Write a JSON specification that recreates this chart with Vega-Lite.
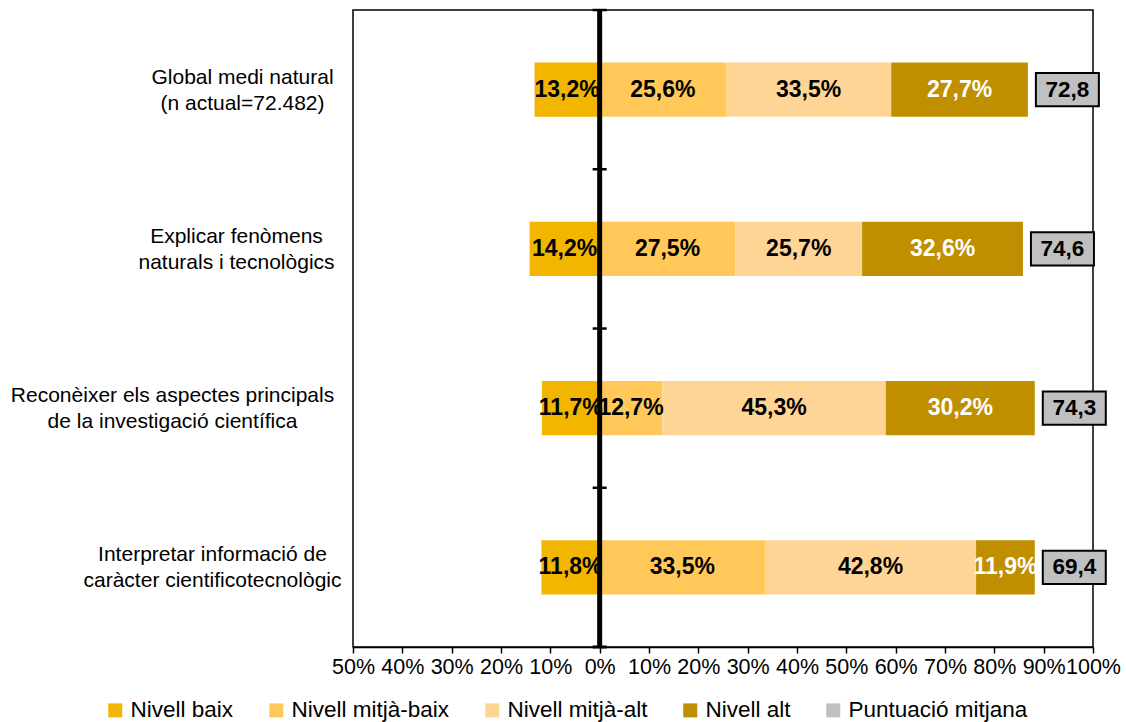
{
  "$schema": "https://vega.github.io/schema/vega-lite/v6.json",
  "width": 740,
  "height": 637,
  "autosize": {"type": "none"},
  "padding": {"left": 353, "top": 10, "right": 33, "bottom": 75},
  "background": "white",
  "config": {
    "font": "Liberation Sans",
    "view": {"stroke": "black", "strokeWidth": 1.5},
    "axis": {"grid": false, "labelColor": "black", "labelFont": "Liberation Sans"}
  },
  "datasets": {
    "levels": [
      {"category": "Global medi natural\n(n actual=72.482)", "level": "Nivell baix", "value": -13.2, "label": "13,2%"},
      {"category": "Global medi natural\n(n actual=72.482)", "level": "Nivell mitjà-baix", "value": 25.6, "label": "25,6%"},
      {"category": "Global medi natural\n(n actual=72.482)", "level": "Nivell mitjà-alt", "value": 33.5, "label": "33,5%"},
      {"category": "Global medi natural\n(n actual=72.482)", "level": "Nivell alt", "value": 27.7, "label": "27,7%"},
      {"category": "Explicar fenòmens\nnaturals i tecnològics", "level": "Nivell baix", "value": -14.2, "label": "14,2%"},
      {"category": "Explicar fenòmens\nnaturals i tecnològics", "level": "Nivell mitjà-baix", "value": 27.5, "label": "27,5%"},
      {"category": "Explicar fenòmens\nnaturals i tecnològics", "level": "Nivell mitjà-alt", "value": 25.7, "label": "25,7%"},
      {"category": "Explicar fenòmens\nnaturals i tecnològics", "level": "Nivell alt", "value": 32.6, "label": "32,6%"},
      {"category": "Reconèixer els aspectes principals\nde la investigació científica", "level": "Nivell baix", "value": -11.7, "label": "11,7%"},
      {"category": "Reconèixer els aspectes principals\nde la investigació científica", "level": "Nivell mitjà-baix", "value": 12.7, "label": "12,7%"},
      {"category": "Reconèixer els aspectes principals\nde la investigació científica", "level": "Nivell mitjà-alt", "value": 45.3, "label": "45,3%"},
      {"category": "Reconèixer els aspectes principals\nde la investigació científica", "level": "Nivell alt", "value": 30.2, "label": "30,2%"},
      {"category": "Interpretar informació de\ncaràcter cientificotecnològic", "level": "Nivell baix", "value": -11.8, "label": "11,8%"},
      {"category": "Interpretar informació de\ncaràcter cientificotecnològic", "level": "Nivell mitjà-baix", "value": 33.5, "label": "33,5%"},
      {"category": "Interpretar informació de\ncaràcter cientificotecnològic", "level": "Nivell mitjà-alt", "value": 42.8, "label": "42,8%"},
      {"category": "Interpretar informació de\ncaràcter cientificotecnològic", "level": "Nivell alt", "value": 11.9, "label": "11,9%"}
    ],
    "scores": [
      {"category": "Global medi natural\n(n actual=72.482)", "level": "Puntuació mitjana", "score": 72.8, "scoreLabel": "72,8"},
      {"category": "Explicar fenòmens\nnaturals i tecnològics", "level": "Puntuació mitjana", "score": 74.6, "scoreLabel": "74,6"},
      {"category": "Reconèixer els aspectes principals\nde la investigació científica", "level": "Puntuació mitjana", "score": 74.3, "scoreLabel": "74,3"},
      {"category": "Interpretar informació de\ncaràcter cientificotecnològic", "level": "Puntuació mitjana", "score": 69.4, "scoreLabel": "69,4"}
    ]
  },
  "layer": [
    {
      "data": {"name": "levels"},
      "transform": [
        {"stack": "value", "groupby": ["category"], "as": ["v0", "v1"]}
      ],
      "mark": {"type": "bar"},
      "encoding": {
        "y": {
          "field": "category",
          "type": "nominal",
          "scale": {
            "domain": [
              "Global medi natural\n(n actual=72.482)",
              "Explicar fenòmens\nnaturals i tecnològics",
              "Reconèixer els aspectes principals\nde la investigació científica",
              "Interpretar informació de\ncaràcter cientificotecnològic"
            ],
            "paddingInner": 0.66,
            "paddingOuter": 0.33
          },
          "axis": {
            "title": null,
            "domain": false,
            "ticks": false,
            "tickSize": 0,
            "labelAlign": "center",
            "labelBaseline": "middle",
            "labelFontSize": 21,
            "labelLineHeight": 26,
            "labelOffset": -12,
            "labelLimit": 400,
            "labelOverlap": false,
            "labelExpr": "split(datum.value, '\\n')",
            "labelPadding": {
              "condition": [
                {"test": "indexof(datum.value, 'Global') >= 0", "value": 111},
                {"test": "indexof(datum.value, 'Explicar') >= 0", "value": 117},
                {"test": "indexof(datum.value, 'Reconèixer') >= 0", "value": 181}
              ],
              "value": 141
            }
          }
        },
        "x": {
          "field": "v0",
          "type": "quantitative",
          "scale": {"domain": [-50, 100], "nice": false, "zero": false},
          "axis": {
            "title": null,
            "values": [-50, -40, -30, -20, -10, 0, 10, 20, 30, 40, 50, 60, 70, 80, 90, 100],
            "labelExpr": "abs(datum.value) + '%'",
            "labelFontSize": 21.5,
            "labelOverlap": false,
            "labelFlush": false,
            "labelPadding": 3,
            "tickSize": 6,
            "tickColor": "black",
            "tickWidth": 1.5,
            "domainColor": "black",
            "domainWidth": 1.5
          }
        },
        "x2": {"field": "v1"},
        "color": {
          "field": "level",
          "type": "nominal",
          "scale": {
            "domain": ["Nivell baix", "Nivell mitjà-baix", "Nivell mitjà-alt", "Nivell alt", "Puntuació mitjana"],
            "range": ["#F2B600", "#FFC859", "#FFD596", "#BF8F00", "#C0C0C0"]
          },
          "legend": {
            "title": null,
            "orient": "none",
            "legendX": -249,
            "legendY": 689,
            "direction": "horizontal",
            "columns": 5,
            "symbolType": "square",
            "symbolSize": 196,
            "symbolStrokeWidth": 0,
            "labelFontSize": 22.5,
            "labelColor": "black",
            "labelOffset": 4,
            "columnPadding": 31,
            "labelLimit": 400
          }
        }
      }
    },
    {
      "data": {"values": [{}]},
      "mark": {"type": "rule", "color": "black", "strokeWidth": 5},
      "encoding": {"x": {"datum": 0, "type": "quantitative"}}
    },
    {
      "data": {"name": "scores"},
      "mark": {"type": "rule", "color": "black", "strokeWidth": 2.5, "yOffset": -79.6, "xOffset": -7, "x2Offset": 7},
      "encoding": {
        "y": {"field": "category", "type": "nominal"},
        "x": {"datum": 0, "type": "quantitative"},
        "x2": {"datum": 0}
      }
    },
    {
      "data": {"name": "scores"},
      "transform": [{"filter": "indexof(datum.category, 'Interpretar') >= 0"}],
      "mark": {"type": "rule", "color": "black", "strokeWidth": 3, "yOffset": 79.6, "xOffset": -7, "x2Offset": 7},
      "encoding": {
        "y": {"field": "category", "type": "nominal"},
        "x": {"datum": 0, "type": "quantitative"},
        "x2": {"datum": 0}
      }
    },
    {
      "data": {"name": "levels"},
      "transform": [
        {"stack": "value", "groupby": ["category"], "as": ["v0", "v1"]},
        {"calculate": "(datum.v0 + datum.v1) / 2", "as": "mid"}
      ],
      "mark": {"type": "text", "fontSize": 23, "fontWeight": "bold", "align": "center", "baseline": "middle"},
      "encoding": {
        "y": {"field": "category", "type": "nominal"},
        "x": {"field": "mid", "type": "quantitative"},
        "text": {"field": "label"},
        "color": {
          "condition": {"test": "datum.level == 'Nivell alt'", "value": "white"},
          "value": "black"
        }
      }
    },
    {
      "data": {"name": "levels"},
      "transform": [
        {"filter": "datum.value > 0"},
        {"aggregate": [{"op": "sum", "field": "value", "as": "end"}], "groupby": ["category"]},
        {"lookup": "category", "from": {"data": {"name": "scores"}, "key": "category", "fields": ["level", "score", "scoreLabel"]}}
      ],
      "layer": [
        {
          "mark": {
            "type": "point",
            "filled": true,
            "shape": "M-1,-0.524L1,-0.524L1,0.524L-1,0.524Z",
            "size": 3969,
            "stroke": "black",
            "strokeWidth": 2,
            "opacity": 1,
            "xOffset": 39.5
          },
          "encoding": {
            "y": {"field": "category", "type": "nominal"},
            "x": {"field": "end", "type": "quantitative"},
            "color": {"field": "level", "type": "nominal"}
          }
        },
        {
          "mark": {"type": "text", "fontSize": 22.5, "fontWeight": "bold", "align": "center", "baseline": "middle", "color": "black", "xOffset": 39.5},
          "encoding": {
            "y": {"field": "category", "type": "nominal"},
            "x": {"field": "end", "type": "quantitative"},
            "text": {"field": "scoreLabel"}
          }
        }
      ]
    }
  ]
}
